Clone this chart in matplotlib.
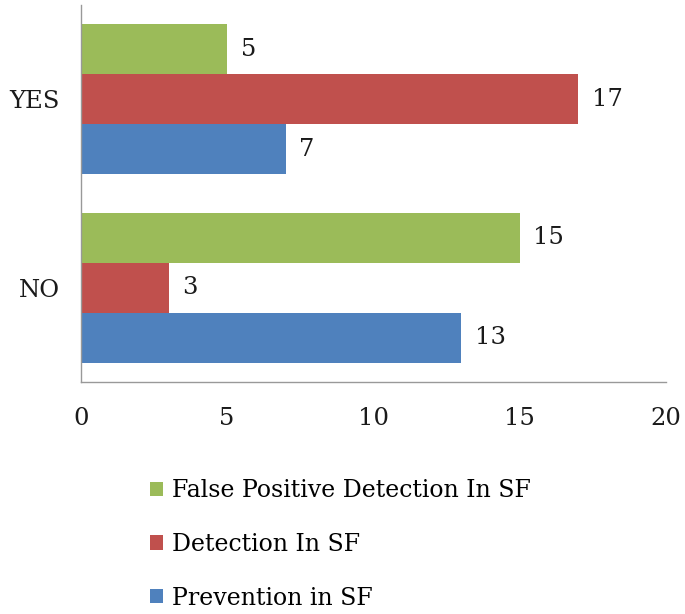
import numpy as np
import matplotlib
matplotlib.use('Agg')
import matplotlib.pyplot as plt

categories = ['NO', 'YES']
prevention = [13, 7]
detection = [3, 17]
false_positive = [15, 5]
series_names = ['Prevention in SF', 'Detection In SF', 'False Positive Detection In SF']
colors = ['#4F81BD', '#C0504D', '#9BBB59']

plt.rcParams['font.family'] = 'DejaVu Serif'

fig = plt.figure(figsize=(6.85, 6.14), dpi=100)
ax = fig.add_axes([0.118, 0.378, 0.854, 0.614])

y = np.arange(len(categories))
h = 0.265
bars = []
for i, (vals, name, c) in enumerate(zip([prevention, detection, false_positive], series_names, colors)):
    b = ax.barh(y + (i - 1) * h, vals, height=h, color=c, label=name)
    ax.bar_label(b, padding=10, fontsize=17.5, color='#1a1a1a')
    bars.append(b)

ax.set_xlim(0, 20)
ax.set_ylim(-0.5, 1.5)
ax.set_xticks([0, 5, 10, 15, 20])
ax.set_yticks(y)
ax.set_yticklabels(categories)
ax.tick_params(axis='both', length=0, labelsize=17.5, colors='#1a1a1a')
ax.tick_params(axis='y', pad=15)
ax.tick_params(axis='x', pad=18)
for s in ['top', 'right']:
    ax.spines[s].set_visible(False)
for s in ['left', 'bottom']:
    ax.spines[s].set_color('#999999')
    ax.spines[s].set_linewidth(1)

handles = bars[::-1]
labels = series_names[::-1]
fig.legend(handles, labels, loc='upper left', bbox_to_anchor=(0.205, 0.235),
           frameon=False, fontsize=17, handlelength=0.55, handleheight=0.55,
           handletextpad=0.4, labelspacing=1.3, borderaxespad=0)

fig.savefig('out.png', dpi=100)
